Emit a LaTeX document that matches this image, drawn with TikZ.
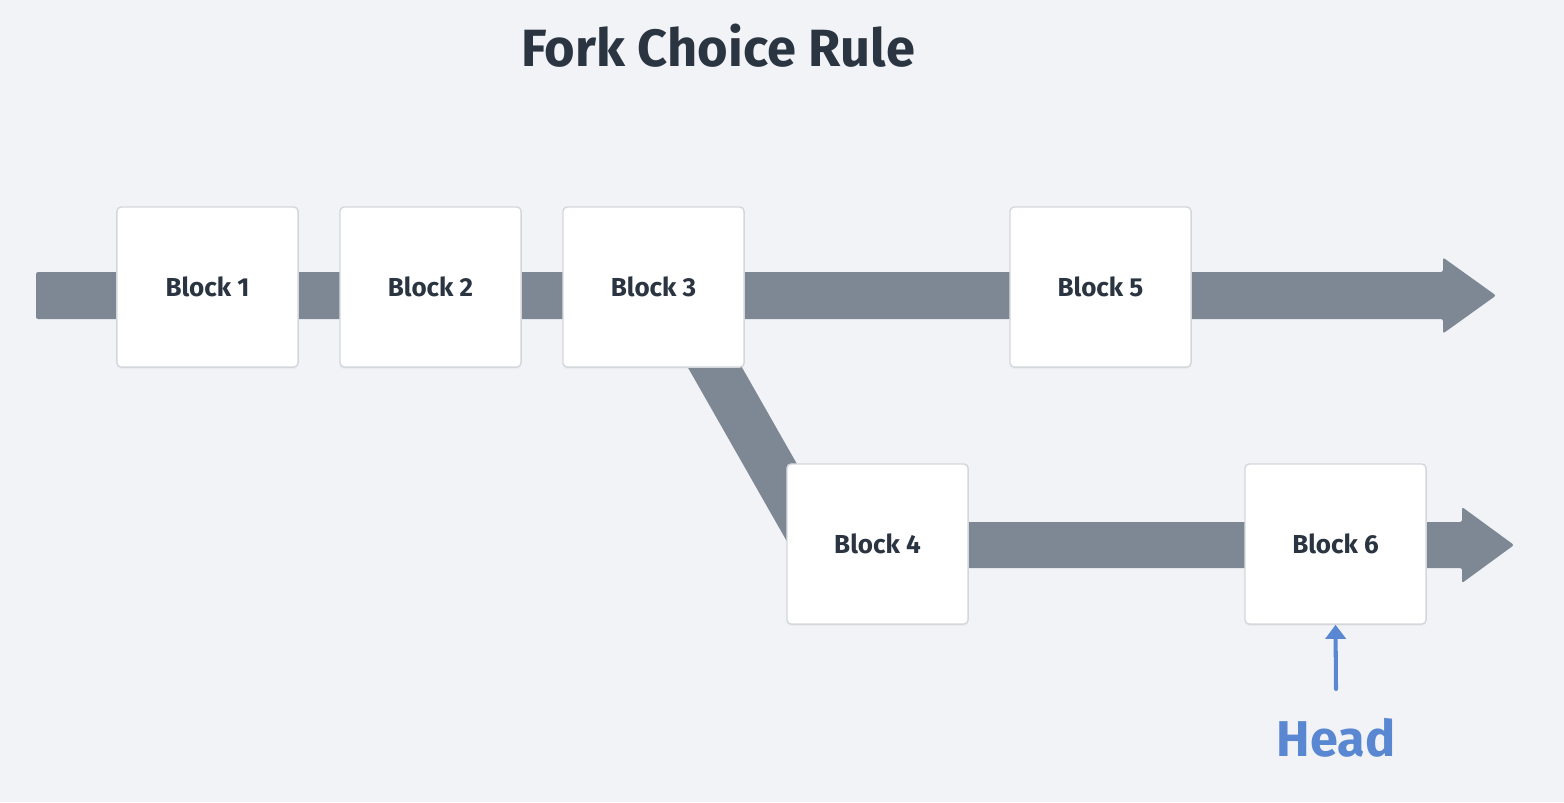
\documentclass[tikz,border=0pt]{standalone}
\usepackage{fontspec}
\setmainfont{Fira Sans}
\usetikzlibrary{arrows.meta,calc,shadows}
\definecolor{bgc}{HTML}{F1F3F6}
\definecolor{barc}{HTML}{7E8894}
\definecolor{txtc}{HTML}{2B3441}
\definecolor{bluec}{HTML}{5A87D1}
\definecolor{bordc}{HTML}{D3D7DC}
\pgfdeclarelayer{bglayer}
\pgfdeclarelayer{barlayer}
\pgfsetlayers{bglayer,barlayer,main}
\tikzset{
  blockbox/.style={draw=bordc, line width=0.4pt, fill=white, rounded corners=1.2pt,
    minimum width=1.81cm, minimum height=1.6cm, inner sep=0pt,
    font=\fontsize{7.4pt}{9pt}\selectfont\bfseries, text=txtc,
    drop shadow={opacity=0.06, shadow xshift=0pt, shadow yshift=-0.6pt}},
  barfill/.style={fill=barc, rounded corners=0.6pt},
  barline/.style={draw=barc, line width=0.47cm},
  titletext/.style={font=\fontsize{14.9pt}{18pt}\selectfont\bfseries, text=txtc},
  headtext/.style={font=\fontsize{14.3pt}{18pt}\selectfont\bfseries, text=bluec},
  headarrow/.style={draw=bluec, line width=1.15pt, line cap=round,
    -{Triangle[length=4pt,width=5.7pt]}}
}
\begin{document}
\begin{tikzpicture}[x=0.01cm,y=-0.01cm]
\begin{pgfonlayer}{bglayer}
\fill[bgc] (0,0) rectangle (1564,802);
\end{pgfonlayer}
\useasboundingbox (0,0) rectangle (1564,802);

\node[titletext] (title) at (718,46) {Fork Choice Rule};

\node[blockbox] (b1) at (207.5,287) {Block 1};
\node[blockbox] (b2) at (430.5,287) {Block 2};
\node[blockbox] (b3) at (653.5,287) {Block 3};
\node[blockbox] (b5) at (1100.5,287) {Block 5};
\node[blockbox] (b4) at (877.5,544) {Block 4};
\node[blockbox] (b6) at (1335.5,544) {Block 6};

\coordinate (s1) at (36,295.5);
\coordinate (t1) at (1496,295.5);
\coordinate (t2) at (1514,545);
\coordinate (s2) at (b4.center |- t2);

\begin{pgfonlayer}{barlayer}
% main chain arrow
\fill[barfill] ($(s1)+(0,-23.5)$) -- ($(t1)+(-53,-23.5)$) -- ($(t1)+(-53,-38)$) -- (t1)
  -- ($(t1)+(-53,38)$) -- ($(t1)+(-53,23.5)$) -- ($(s1)+(0,23.5)$) -- cycle;
% fork branch
\draw[barline] ($(b3.center)+(20.5,8.5)$) -- ($(b4.center)+(-61.5,1)$);
% side chain arrow
\fill[barfill] ($(s2)+(0,-23)$) -- ($(t2)+(-52,-23)$) -- ($(t2)+(-52,-38)$) -- (t2)
  -- ($(t2)+(-52,38)$) -- ($(t2)+(-52,23)$) -- ($(s2)+(0,23)$) -- cycle;
\end{pgfonlayer}

\node[headtext] (head) at (1336,738) {Head};
\coordinate (hs) at (1336,689);
\draw[headarrow] (hs) -- (b6.south);
\end{tikzpicture}
\end{document}
